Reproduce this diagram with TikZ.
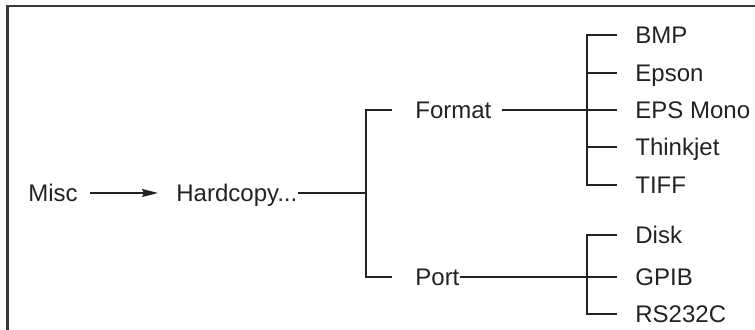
\documentclass[tikz,border=0pt]{standalone}
\usepackage{fontspec}
\setmainfont{Liberation Sans}
\usetikzlibrary{arrows.meta}
\definecolor{ink}{HTML}{222222}
\tikzstyle{item} = [
    inner sep=0pt,
    anchor=west,
    text height=8.6pt,
    text depth=0pt,
    text=ink
]
\tikzstyle{link} = [draw=ink, line width=0.7pt]
\tikzstyle{arrow} = [link, -{Stealth[length=8pt,width=4pt,inset=1pt]}]
\begin{document}
\begin{tikzpicture}[x=0.5pt, y=-0.5pt, font=\fontsize{12}{14}\selectfont]

\useasboundingbox (0,0) rectangle (755,330);
\draw [draw=ink!90, line width=1.1pt] (7.5,330) |- (755,6);

\node (misc) [item] at (28,193) {Misc};

\node (hardcopy) [item] at (176,193) {Hardcopy...};

\node (format) [item] at (415,110) {Format};

\node (port) [item] at (415,277) {Port};

\node (bmp) [item] at (635,35) {BMP};
\node (epson) [item] at (635,73) {Epson};
\node (epsmono) [item] at (635,110) {EPS Mono};
\node (thinkjet) [item] at (635,147) {Thinkjet};
\node (tiff) [item] at (635,185) {TIFF};

\node (disk) [item] at (635,235) {Disk};
\node (gpib) [item] at (635,277) {GPIB};
\node (rs232c) [item] at (635,314) {RS232C};

\coordinate (jhc) at (366,193);

\draw [arrow] ([xshift=6pt]misc.east) -- ([xshift=-9pt]hardcopy.west);
\draw [link] (hardcopy.east) -- (jhc);
\draw [link] ([xshift=-11.5pt]format.west) -| (jhc) |- ([xshift=-11.5pt]port.west);

\draw [link] ([xshift=5pt]format.east) -- ([xshift=-9pt]epsmono.west);
\draw [link] ([xshift=-9pt]bmp.west) -| ([xshift=-24pt]tiff.west) -- ([xshift=-9pt]tiff.west);
\foreach \leaf in {epson,thinkjet}
    \draw [link] ([xshift=-24pt]\leaf.west) -- ([xshift=-9pt]\leaf.west);

\draw [link] (port.east) -- ([xshift=-9pt]gpib.west);
\draw [link] ([xshift=-9pt]disk.west) -| ([xshift=-24pt]rs232c.west) -- ([xshift=-9pt]rs232c.west);

\end{tikzpicture}
\end{document}
